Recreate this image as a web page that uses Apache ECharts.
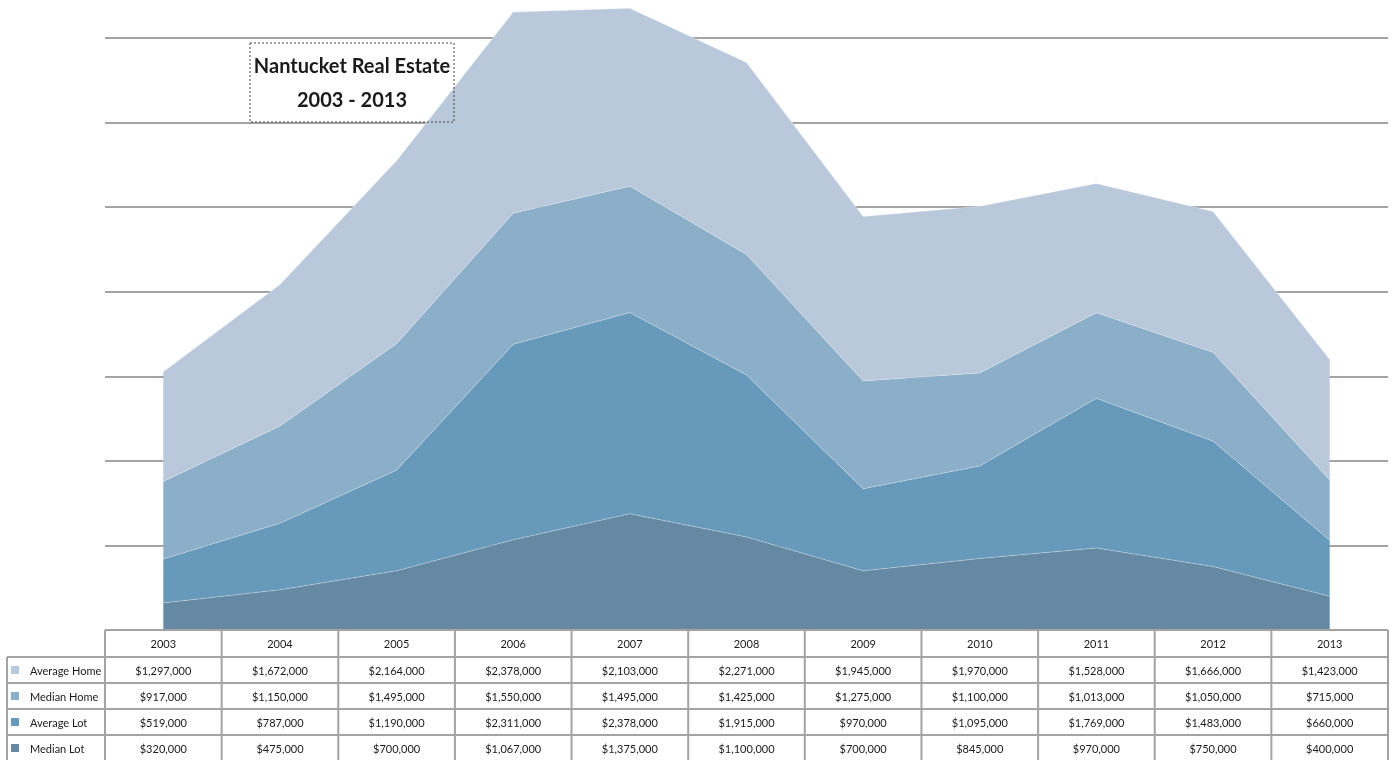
<!doctype html>
<html lang="en">
<head>
  <meta charset="UTF-8">
  <title>Nantucket Real Estate 2003 - 2013</title>
  <script src="https://cdn.jsdelivr.net/npm/echarts@6/dist/echarts.min.js"></script>
  <style>
    * {
      margin: 0;
      padding: 0;
      box-sizing: border-box;
    }

    body {
      background: #fff;
    }

    #chart {
      width: 1397px;
      height: 760px;
    }
  </style>
</head>
<body>
<div id="chart"></div>
<script>
  const years = ['2003', '2004', '2005', '2006', '2007', '2008', '2009', '2010', '2011', '2012', '2013']
  const averageHome = [1297000, 1672000, 2164000, 2378000, 2103000, 2271000, 1945000, 1970000, 1528000, 1666000, 1423000]
  const medianHome = [917000, 1150000, 1495000, 1550000, 1495000, 1425000, 1275000, 1100000, 1013000, 1050000, 715000]
  const averageLot = [519000, 787000, 1190000, 2311000, 2378000, 1915000, 970000, 1095000, 1769000, 1483000, 660000]
  const medianLot = [320000, 475000, 700000, 1067000, 1375000, 1100000, 700000, 845000, 970000, 750000, 400000]

  // table rows, top to bottom (same order as the stack, top first)
  const rows = [
    {name: 'Average Home', data: averageHome, color: '#b9c8db'},
    {name: 'Median Home', data: medianHome, color: '#8baec9'},
    {name: 'Average Lot', data: averageLot, color: '#6699ba'},
    {name: 'Median Lot', data: medianLot, color: '#6689a3'}
  ]

  const gridLeft = 105
  const gridRight = 1388
  const gridTopY = 38
  const gridBottomY = 630
  const headerH = 27
  const rowH = 26
  const labelLeft = 7
  const border = '#a3a3a3'
  const font = 'Lato, "Open Sans", sans-serif'

  const chart = echarts.init(document.getElementById('chart'))

  // stack from bottom up; the 2006-2008 peaks run above the top gridline, so no clipping
  const series = rows.slice().reverse().map(r => ({
    name: r.name,
    type: 'line',
    stack: 'total',
    data: r.data,
    symbol: 'none',
    clip: false,
    lineStyle: {width: 1, color: 'rgba(255,255,255,0.3)'},
    areaStyle: {color: r.color, opacity: 1},
    itemStyle: {color: r.color},
    z: 3
  }))

  chart.setOption({
    animation: false,
    grid: {left: gridLeft, right: 1397 - gridRight, top: gridTopY, bottom: 760 - gridBottomY},
    xAxis: {
      type: 'category',
      data: years,
      boundaryGap: true,
      axisLine: {show: false},
      axisTick: {show: false},
      axisLabel: {show: false}
    },
    yAxis: {
      type: 'value',
      min: 0,
      max: 7000000,
      interval: 1000000,
      axisLine: {show: false},
      axisTick: {show: false},
      axisLabel: {show: false},
      splitLine: {lineStyle: {color: border, width: 2}}
    },
    series: series
  })

  // data table under the plot
  function money(v) {
    return '$' + v.toLocaleString('en-US')
  }

  const colW = (gridRight - gridLeft) / years.length
  const tableBottom = gridBottomY + headerH + rowH * rows.length
  const g = []
  const line = (x1, y1, x2, y2) => ({
    type: 'line',
    shape: {x1, y1, x2, y2},
    style: {stroke: border, lineWidth: 2},
    z: 10
  })
  const text = (x, y, s, align) => ({
    type: 'text',
    x, y,
    style: {text: s, fill: '#1a1a1a', font: '11px ' + font, align: align || 'center', verticalAlign: 'middle'},
    z: 11
  })

  g.push(line(gridLeft, gridBottomY, gridRight, gridBottomY))
  for (let i = 0; i <= rows.length; i++) {
    const y = gridBottomY + headerH + rowH * i
    g.push(line(labelLeft, y, gridRight, y))
  }
  g.push(line(labelLeft, gridBottomY + headerH, labelLeft, tableBottom))
  for (let k = 0; k <= years.length; k++) {
    const x = gridLeft + colW * k
    g.push(line(x, gridBottomY, x, tableBottom))
  }
  years.forEach((yr, k) => {
    const cx = chart.convertToPixel({xAxisIndex: 0}, yr)
    g.push(text(cx, gridBottomY + headerH / 2 + 1, yr))
    rows.forEach((r, i) => {
      g.push(text(cx, gridBottomY + headerH + rowH * i + rowH / 2 + 1, money(r.data[k])))
    })
  })
  rows.forEach((r, i) => {
    const cy = gridBottomY + headerH + rowH * i + rowH / 2
    g.push({type: 'rect', shape: {x: 11, y: cy - 4, width: 8, height: 8}, style: {fill: r.color}, z: 11})
    g.push(text(30, cy + 1, r.name, 'left'))
  })

  // title box
  g.push({
    type: 'rect',
    shape: {x: 250, y: 43, width: 204, height: 79},
    style: {fill: 'none', stroke: '#444', lineWidth: 1, lineDash: [2, 2]},
    z: 12
  })
  g.push({
    type: 'text', x: 352, y: 67,
    style: {text: 'Nantucket Real Estate', fill: '#1a1a1a', font: 'bold 20px ' + font, align: 'center', verticalAlign: 'middle'},
    z: 12
  })
  g.push({
    type: 'text', x: 352, y: 101,
    style: {text: '2003 - 2013', fill: '#1a1a1a', font: 'bold 20px ' + font, align: 'center', verticalAlign: 'middle'},
    z: 12
  })

  chart.setOption({graphic: g})
</script>
</body>
</html>
